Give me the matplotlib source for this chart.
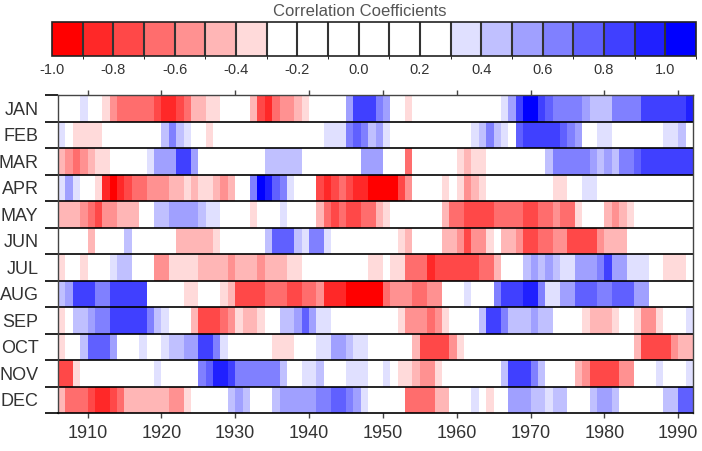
import numpy as np
import matplotlib.pyplot as plt
from matplotlib.colors import ListedColormap, BoundaryNorm

plt.rcParams["font.family"] = ["Liberation Sans", "DejaVu Sans"]
plt.rcParams["axes.unicode_minus"] = False

# cell edges along the time axis (one cell per year, 1906..1991)
YEAR_EDGES = np.arange(1906, 1993)
MONTHS = ["JAN", "FEB", "MAR", "APR", "MAY", "JUN",
          "JUL", "AUG", "SEP", "OCT", "NOV", "DEC"]

# correlation in tenths, 1906..1991 (grouped by decade)
JAN = [0, 0, 0, 3,
       0, 0, -4, -6, -7, -7, -7, -7, -7, -8,
       -9, -9, -8, -7, -5, -5, -4, -4, 0, 0,
       0, 0, -5, -8, -9, -7, -6, -6, -5, -4,
       0, 0, 0, 0, 0, 5, 8, 8, 8, 6,
       5, 0, 0, -4, 0, 0, 0, 0, 0, 0,
       0, 0, 0, 0, 0, 0, 3, 5, 8, 10,
       10, 8, 7, 6, 6, 6, 6, 5, 4, 4,
       4, 6, 6, 6, 6, 8, 8, 8, 8, 8,
       8, 9]
FEB = [3, 0, -4, -4,
       -4, -4, 0, 0, 0, 0, 0, 0, 0, 0,
       4, 6, 4, 3, 0, 0, -4, 0, 0, 0,
       0, 0, 0, 0, 0, 0, 0, 0, 0, 0,
       0, 0, 3, 3, 3, 6, 7, 6, 4, 5,
       3, 0, 0, 0, 0, 0, 0, 0, 0, 0,
       0, 0, 3, 4, 6, 4, 3, 0, 7, 8,
       8, 8, 8, 8, 7, 6, 5, 0, 0, 3,
       3, 0, 0, 0, 0, 0, 0, 0, 3, 3,
       4, 0]
MAR = [-5, -6, -7, -6,
       -5, -4, -4, 0, 0, 0, 0, 0, 3, 5,
       5, 5, 8, 8, 5, 0, 0, 0, 0, 0,
       0, 0, 0, 0, 4, 4, 4, 4, 4, 0,
       0, 0, 0, 0, 0, 0, 0, 5, 5, 5,
       0, 0, 0, -7, 0, 0, 0, 0, 0, 0,
       -4, -5, -4, -4, 0, 0, 0, 0, 0, 0,
       0, 0, 4, 6, 6, 6, 6, 6, 5, 4,
       5, 4, 6, 6, 7, 8, 8, 8, 8, 8,
       8, 8]
APR = [3, 5, 3, 0,
       0, -4, -9, -10, -9, -8, -7, -7, -6, -6,
       -6, -5, -5, -4, -5, -4, -4, -5, -6, -5,
       0, 0, 6, 10, 9, 7, 6, 3, 0, 0,
       0, -8, -9, -8, -7, -8, -9, -9, -10, -10,
       -10, -10, -8, -6, 0, 0, 0, 0, -4, 0,
       -4, -6, -5, -4, 0, 0, 0, 0, 0, 0,
       0, 0, 0, -4, -4, 0, 0, 3, 3, 0,
       0, 0, 0, 0, 0, 0, 0, 0, 0, 0,
       0, 0]
MAY = [-5, -5, -5, -6,
       -7, -8, -6, -6, -5, -5, -5, 0, 0, 4,
       4, 5, 5, 5, 5, 4, 3, 3, 0, 0,
       0, 0, -4, 0, 0, 0, 3, 0, 0, 0,
       0, -5, -7, -8, -7, -8, -8, -7, -7, -5,
       -4, 0, 0, 0, 0, 0, 0, 0, -5, -7,
       -7, -8, -8, -8, -8, -7, -7, -7, -7, -8,
       -8, -7, -7, -6, -7, -7, -4, 0, 0, 0,
       -5, -6, -5, -4, 0, 0, 0, 0, 0, 0,
       0, 0]
JUN = [0, 0, 0, 0,
       -5, 0, 0, 0, 0, 4, 0, 0, 0, 0,
       0, 0, -5, -5, -5, -5, -5, -4, 0, 0,
       0, 0, 0, 0, 4, 7, 7, 7, 4, 3,
       6, 6, 3, 0, 0, 0, 0, 0, 0, 0,
       0, 0, -4, -5, 0, 0, 0, 0, -5, -5,
       -6, -8, -6, -6, -4, 0, -5, -5, -6, -8,
       -8, -7, -7, -6, -6, -8, -8, -8, -8, -6,
       -5, -5, -5, 0, 0, 0, 0, 0, 0, 0,
       0, 0]
JUL = [-4, 0, 0, -4,
       0, 0, 0, 3, 4, 4, 0, 0, 0, -6,
       -6, -4, -4, -4, -4, -5, -5, -5, -5, -6,
       -5, -5, -5, -6, -5, -5, -5, -4, -4, 0,
       0, 0, 0, 0, 0, 0, 0, 0, -4, -4,
       0, -4, -4, -7, -7, -7, -9, -8, -8, -8,
       -8, -8, -8, -7, -7, -5, 0, 0, 0, 4,
       5, 4, 5, 4, 3, 3, 5, 5, 5, 6,
       8, 5, 5, 3, 3, 3, 0, 0, -4, -4,
       -4, 0]
AUG = [4, 5, 8, 8,
       8, 6, 6, 8, 8, 8, 8, 8, 0, 0,
       0, 0, 0, -4, -4, 0, 0, 0, -4, -5,
       -8, -8, -8, -8, -7, -7, -7, -8, -8, -7,
       -7, -6, -9, -9, -9, -10, -10, -10, -10, -10,
       -7, -6, -6, -6, -7, -7, -6, -6, 0, 0,
       0, 3, 0, 0, 0, 6, 8, 8, 8, 9,
       9, 6, 3, 3, 5, 5, 7, 7, 7, 6,
       6, 7, 7, 7, 5, 5, 0, 0, 0, 0,
       0, 0]
SEP = [-4, 0, 4, 4,
       5, 6, 6, 8, 8, 8, 8, 8, 6, 4,
       3, 0, 0, 0, -5, -8, -8, -8, -7, -6,
       -4, -5, -5, -4, 0, 0, 4, 4, 5, 7,
       5, 3, 3, 0, 0, 0, 0, 0, 0, 0,
       0, 0, -4, -6, -6, -6, -7, -6, -4, 0,
       0, 0, 0, 4, 8, 8, 6, 4, 4, 4,
       5, 4, 4, 0, 0, 0, 0, -4, -5, -5,
       -5, -4, 0, 0, -4, -6, -6, -4, 0, 0,
       0, 3]
OCT = [-4, 0, 0, 4,
       7, 7, 7, 5, 0, 0, 0, 3, 0, 0,
       3, 4, 4, 5, 5, 8, 8, 6, 3, 0,
       0, 0, 0, 0, 0, -4, -4, -4, 0, 0,
       0, 3, 3, 5, 5, 4, 3, 3, 0, 0,
       0, 0, 0, 0, -5, -8, -8, -8, -8, -6,
       -4, 0, 0, 0, 0, 0, 0, 0, 0, 0,
       0, 0, 0, 0, 0, 0, 0, 0, 0, 0,
       0, 0, 0, 0, -5, -8, -8, -8, -8, -6,
       -5, -5]
NOV = [-8, -8, -4, 0,
       0, 0, 0, 0, 0, 0, 0, 0, 0, 3,
       0, 0, 0, 0, 0, 6, 7, 9, 9, 8,
       6, 6, 6, 6, 6, 6, 4, 0, 0, 3,
       3, 4, 0, 0, 0, 3, 3, 3, 0, 0,
       3, 0, -4, -4, -5, -6, -6, -4, 0, 0,
       0, 0, 0, 0, 0, 0, 4, 8, 8, 8,
       6, 4, 0, 0, 0, 0, -5, -6, -8, -8,
       -8, -8, -6, -6, 0, 0, 0, 3, 0, 0,
       0, 3]
DEC = [-5, -7, -7, -7,
       -8, -9, -9, -8, -7, -5, -5, -5, -5, -5,
       -5, -6, -6, -4, 0, 0, 0, 0, 0, 4,
       5, 4, 0, 0, 0, 4, 5, 5, 5, 5,
       5, 6, 6, 7, 7, 6, 5, 3, 0, 0,
       0, 0, 0, -7, -7, -7, -7, -5, -5, 0,
       0, 0, 3, 0, -4, 0, 0, 5, 5, 5,
       4, 4, 3, 4, 4, 0, 0, 0, 4, 5,
       5, 4, 0, 0, 0, 0, 0, 0, 4, 4,
       7, 7]

# one colour per 0.1 bin, bins [-1.0,-0.9) ... [1.0,1.1]
BIN_COLORS = ["#ff0000", "#ff2828", "#ff4848", "#ff6d6d", "#ff9191",
              "#ffb6b6", "#ffdada",
              "#ffffff", "#ffffff", "#ffffff", "#ffffff", "#ffffff", "#ffffff",
              "#e0e0ff", "#c0c0ff", "#a0a0ff", "#8080ff", "#6060ff",
              "#4040ff", "#2020ff", "#0000ff"]

corr = np.array([JAN, FEB, MAR, APR, MAY, JUN,
                 JUL, AUG, SEP, OCT, NOV, DEC]) / 10.0
assert corr.shape == (12, len(YEAR_EDGES) - 1), corr.shape

W, H = 702, 451


def frac(x0, y0, x1, y1):
    return [x0 / W, 1 - y1 / H, (x1 - x0) / W, (y1 - y0) / H]


fig = plt.figure(figsize=(W / 100, H / 100), dpi=100)
ax = fig.add_axes(frac(58, 95, 693, 413))
cax = fig.add_axes(frac(52, 22, 696, 56))

edges = np.arange(-10, 12) / 10.0
cmap = ListedColormap(BIN_COLORS)
norm = BoundaryNorm(edges, cmap.N)

mesh = ax.pcolormesh(YEAR_EDGES, np.arange(13), corr, cmap=cmap, norm=norm,
                     shading="flat", antialiased=False)
ax.set_xlim(YEAR_EDGES[0], YEAR_EDGES[-1])
ax.set_ylim(12, 0)

# x axis: decades, ticks on top and bottom
ax.set_xticks(np.arange(1910, 1991, 10))
ax.tick_params(axis="x", which="major", top=True, bottom=True, direction="out",
               length=3.6, width=1, color="#444444", labelsize=13, pad=5,
               labelcolor="#333333")

# y axis: long ticks at row borders, month names in the middle of rows
ax.set_yticks(np.arange(13))
ax.set_yticklabels([])
ax.tick_params(axis="y", which="major", length=9.4, width=1.2, color="black")
ax.set_yticks(np.arange(12) + 0.5, minor=True)
ax.set_yticklabels(MONTHS, minor=True)
ax.tick_params(axis="y", which="minor", length=0, pad=14, labelsize=13,
               labelcolor="#333333")
for y in range(1, 12):
    ax.axhline(y, color="black", lw=1.2)

for side, sp in ax.spines.items():
    sp.set_color("#444444")
    sp.set_linewidth(1.0)
ax.spines["bottom"].set_color("black")
ax.spines["bottom"].set_linewidth(1.2)

cb = fig.colorbar(mesh, cax=cax, orientation="horizontal",
                  ticks=edges[::2], drawedges=True)
cb.outline.set_edgecolor("#222222")
cb.outline.set_linewidth(1.2)
cb.dividers.set_color("#333333")
cb.dividers.set_linewidth(1.5)
cb.ax.set_xticklabels([f"{t:.1f}" for t in edges[::2]])
cax.tick_params(length=0, labelsize=10.5, pad=5, labelcolor="#333333")

fig.text(360 / W, 1 - 11 / H, "Correlation Coefficients", ha="center",
         va="center", fontsize=12, color="#555555")

fig.savefig("out.png", dpi=100)
